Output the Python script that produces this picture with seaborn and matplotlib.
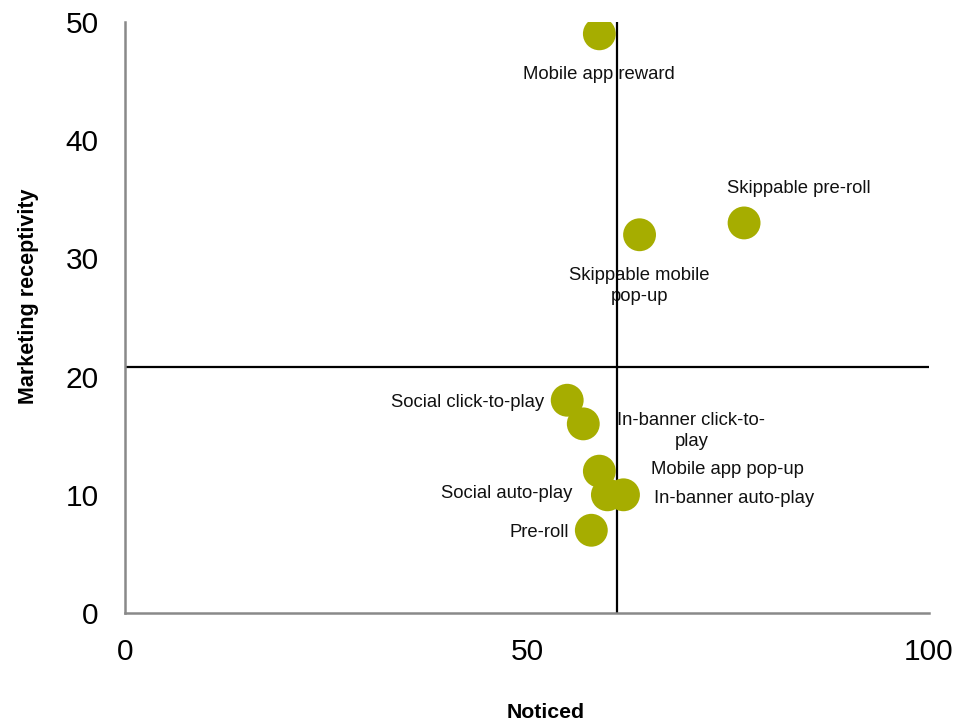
import matplotlib
matplotlib.use("Agg")
import matplotlib.pyplot as plt
import seaborn as sns
import pandas as pd
import numpy as np

# ---- data ----
formats = ["Mobile app reward", "Skippable pre-roll", "Skippable mobile\npop-up",
           "Social click-to-play", "In-banner click-to-\nplay", "Mobile app pop-up",
           "Social auto-play", "In-banner auto-play", "Pre-roll"]
noticed = [59, 77, 64, 55, 57, 59, 60, 62, 58]
receptivity = [49, 33, 32, 18, 16, 12, 10, 10, 7]
x_ticks = [0, 50, 100]
y_ticks = [0, 10, 20, 30, 40, 50]

# label placement (offset in pixels from point, alignment)
label_offsets = [(0, -41, "center"), (55, 34, "center"), (0, -51, "center"),
                 (-23, -2, "right"), (108, -7, "center"), (52, 2, "left"),
                 (-35, 1, "right"), (31, -4, "left"), (-22, -2, "right")]

df = pd.DataFrame({"Noticed": noticed, "Marketing receptivity": receptivity,
                   "Format": formats})

sns.set_theme(style="white")
plt.rcParams["font.family"] = ["Liberation Sans", "DejaVu Sans"]
plt.rcParams["text.color"] = "black"

fig = plt.figure(figsize=(9.59, 7.22), dpi=100)
ax = fig.add_axes([125 / 959, 1 - 613 / 722, (929 - 125) / 959, (613 - 22) / 722])

# quadrant lines at the means
ax.axvline(np.mean(noticed), color="black", lw=1.6, zorder=2)
ax.axhline(np.mean(receptivity), color="black", lw=1.6, zorder=2)

sns.scatterplot(data=df, x="Noticed", y="Marketing receptivity", ax=ax,
                color="#A6AD00", s=560, edgecolor="none", linewidth=0,
                zorder=3, legend=False)

for (lab, xv, yv), (dx, dy, ha) in zip(zip(formats, noticed, receptivity), label_offsets):
    ax.annotate(lab, (xv, yv), xytext=(dx * 0.72, dy * 0.72),
                textcoords="offset points", ha=ha, va="center",
                fontsize=13.3, color="#111111", zorder=1, linespacing=1.3)

ax.set_xlim(0, 100)
ax.set_ylim(0, 50)
ax.set_xticks(x_ticks)
ax.set_yticks(y_ticks)
ax.tick_params(axis="both", length=0, labelsize=21.5, colors="black")
ax.tick_params(axis="x", pad=18)
ax.tick_params(axis="y", pad=19)

for side in ["top", "right"]:
    ax.spines[side].set_visible(False)
for side in ["left", "bottom"]:
    ax.spines[side].set_color("#898989")
    ax.spines[side].set_linewidth(1.8)

ax.set_xlabel("Noticed", fontsize=15.3, fontweight="bold", color="black")
ax.set_ylabel("Marketing receptivity", fontsize=15.5, fontweight="bold", color="black")
ax.xaxis.set_label_coords((546 - 125) / (929 - 125), -(712 - 613) / (613 - 22))
ax.yaxis.set_label_coords(-(125 - 29) / (929 - 125), (613 - 296) / (613 - 22))
ax.xaxis.label.set_va("center")
ax.yaxis.label.set_va("center")

fig.savefig("out.png", dpi=100)
